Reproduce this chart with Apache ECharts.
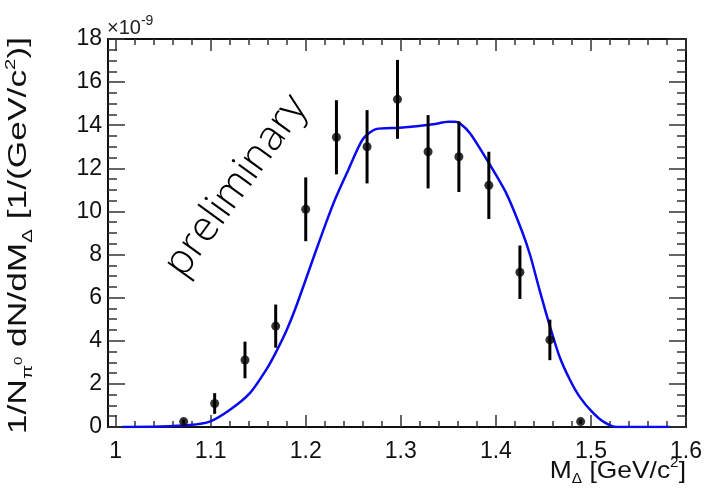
<!DOCTYPE html>
<html>
<head>
<meta charset="utf-8">
<script src="https://cdn.jsdelivr.net/npm/echarts@6/dist/echarts.min.js"></script>
<style>
  html, body { margin: 0; padding: 0; background: #fff; }
  #chart { width: 707px; height: 488px; }
</style>
</head>
<body>
<div id="chart"></div>
<script>
// Invariant-mass bin centres [GeV/c^2]
const massCenters = [1.0716, 1.1042, 1.1361, 1.1684, 1.2000, 1.2323, 1.2645,
                     1.2965, 1.3287, 1.3611, 1.3926, 1.4253, 1.4568, 1.4892];
// Normalised yield, in units of 1e-9 (GeV/c^2)^-1
const yieldValues = [0.25, 1.09, 3.11, 4.68, 10.10, 13.44, 13.00,
                     15.20, 12.77, 12.54, 11.21, 7.18, 4.04, 0.25];
// Statistical uncertainties, same units
const yieldErrors = [0.10, 0.48, 0.85, 1.00, 1.48, 1.72, 1.70,
                     1.83, 1.70, 1.64, 1.56, 1.24, 0.94, 0.10];
// Model curve
const fitMass = [1.007, 1.046, 1.078, 1.099, 1.120, 1.141, 1.159, 1.169, 1.180, 1.190,
                 1.211, 1.222, 1.232, 1.245, 1.260, 1.274, 1.299, 1.334, 1.350, 1.357,
                 1.362, 1.373, 1.394, 1.411, 1.427, 1.436, 1.446, 1.457, 1.467, 1.478,
                 1.488, 1.501, 1.513, 1.527, 1.583];
const fitValues = [0, 0.02, 0.09, 0.25, 0.79, 1.56, 2.70, 3.50, 4.50, 5.60,
                   8.21, 9.55, 10.68, 11.95, 13.35, 13.82, 13.88, 14.04, 14.16, 14.16,
                   14.09, 13.62, 12.15, 10.84, 9.14, 7.98, 6.35, 4.65, 3.26, 2.18,
                   1.41, 0.71, 0.25, 0, 0];
// Axis tick labels
const xTickLabels = [1.0, 1.1, 1.2, 1.3, 1.4, 1.5, 1.6];
const yTickLabels = [0, 2, 4, 6, 8, 10, 12, 14, 16, 18];

const X_MIN = 0.992, X_MAX = 1.6, Y_MIN = 0, Y_MAX = 18;

const xMinorTicks = [];
for (let i = 0; i <= 30; i++) xMinorTicks.push(+(1 + 0.02 * i).toFixed(2));
const yMinorTicks = [];
for (let i = 0; i <= 36; i++) yMinorTicks.push(+(0.5 * i).toFixed(1));

const FONT = '"Liberation Sans", Arial, Helvetica, sans-serif';
const FRAME = { color: '#111', width: 2 };
const TICK = { color: '#333', width: 1.5 };

function xAxisDef(position, ticks, len, withLabels, withLine) {
  return {
    type: 'value', position: position, min: X_MIN, max: X_MAX, offset: 0,
    axisLine: { show: withLine, onZero: false, lineStyle: FRAME },
    axisTick: { show: true, inside: true, length: len, customValues: ticks, lineStyle: TICK },
    axisLabel: withLabels ? {
      show: true, customValues: ticks, margin: 13, color: '#111',
      fontFamily: FONT, fontSize: 23,
      formatter: v => String(Math.round(v * 10) / 10)
    } : { show: false },
    splitLine: { show: false }
  };
}
function yAxisDef(position, ticks, len, withLabels, withLine) {
  return {
    type: 'value', position: position, min: Y_MIN, max: Y_MAX, offset: 0,
    axisLine: { show: withLine, onZero: false, lineStyle: FRAME },
    axisTick: { show: true, inside: true, length: len, customValues: ticks, lineStyle: TICK },
    axisLabel: withLabels ? {
      show: true, customValues: ticks, margin: 6, color: '#111',
      fontFamily: FONT, fontSize: 23, padding: [4, 0, 0, 0],
      formatter: v => String(Math.round(v))
    } : { show: false },
    splitLine: { show: false }
  };
}

const chart = echarts.init(document.getElementById('chart'), null, { renderer: 'canvas' });

chart.setOption({
  animation: false,
  backgroundColor: '#fff',
  grid: { left: 108, right: 21, top: 39, bottom: 61, containLabel: false },
  xAxis: [
    xAxisDef('bottom', xTickLabels, 12, true, true),
    xAxisDef('bottom', xMinorTicks, 6, false, false),
    xAxisDef('top', xTickLabels, 12, false, true),
    xAxisDef('top', xMinorTicks, 6, false, false)
  ],
  yAxis: [
    yAxisDef('left', yTickLabels, 17, true, true),
    yAxisDef('left', yMinorTicks, 9, false, false),
    yAxisDef('right', yTickLabels, 17, false, true),
    yAxisDef('right', yMinorTicks, 9, false, false)
  ],
  series: [
    {
      name: 'model', type: 'line', xAxisIndex: 0, yAxisIndex: 0,
      data: fitMass.map((m, i) => [m, fitValues[i]]),
      showSymbol: false, smooth: 0.25,
      lineStyle: { color: '#0a0aef', width: 2.5 },
      z: 2
    },
    {
      name: 'errors', type: 'custom', xAxisIndex: 0, yAxisIndex: 0,
      data: massCenters.map((m, i) => [m, yieldValues[i], yieldErrors[i]]),
      encode: { x: 0, y: 1 },
      renderItem: function (params, api) {
        const x = api.value(0), y = api.value(1), e = api.value(2);
        const hi = api.coord([x, y + e]);
        const lo = api.coord([x, Math.max(0, y - e)]);
        return {
          type: 'line',
          shape: { x1: hi[0], y1: hi[1], x2: lo[0], y2: lo[1] },
          style: { stroke: '#000', lineWidth: 3 }
        };
      },
      z: 3
    },
    {
      name: 'data', type: 'scatter', xAxisIndex: 0, yAxisIndex: 0,
      data: massCenters.map((m, i) => [m, yieldValues[i]]),
      symbol: 'circle', symbolSize: 9,
      itemStyle: { color: '#000' },
      z: 4
    }
  ],
  graphic: [
    {
      type: 'text', x: 107, y: 38,
      style: {
        text: '{a|\u00d710}{s|-9}',
        verticalAlign: 'bottom',
        rich: {
          a: { fontFamily: FONT, fontSize: 20, fill: '#222', verticalAlign: 'bottom', lineHeight: 24 },
          s: { fontFamily: FONT, fontSize: 14, fill: '#222', verticalAlign: 'top', lineHeight: 24 }
        }
      }
    },
    {
      type: 'text', x: 686, y: 486, scaleX: 1.1, originX: 0, originY: 0,
      style: {
        text: '{a|M}{s|\u0394}{a| [GeV/c}{p|2}{a|]}',
        align: 'right', verticalAlign: 'bottom',
        rich: {
          a: { fontFamily: FONT, fontSize: 24, fill: '#111', verticalAlign: 'middle', lineHeight: 30 },
          s: { fontFamily: FONT, fontSize: 14, fill: '#111', verticalAlign: 'bottom', lineHeight: 30 },
          p: { fontFamily: FONT, fontSize: 14, fill: '#111', verticalAlign: 'top', lineHeight: 30 }
        }
      }
    },
    {
      type: 'text', x: 19, y: 37, rotation: Math.PI / 2, scaleX: 1.36,
      style: {
        text: '{a|1/N}{s|\u03c0}{z|0}{a| dN/dM}{s|\u0394}{a| [1/(GeV/c}{p|2}{a|)]}',
        align: 'right', verticalAlign: 'middle',
        rich: {
          a: { fontFamily: FONT, fontSize: 26, fill: '#111', verticalAlign: 'middle', lineHeight: 32 },
          s: { fontFamily: FONT, fontSize: 15, fill: '#111', verticalAlign: 'bottom', lineHeight: 32 },
          z: { fontFamily: FONT, fontSize: 11, fill: '#111', verticalAlign: 'middle', lineHeight: 32 },
          p: { fontFamily: FONT, fontSize: 15, fill: '#111', verticalAlign: 'top', lineHeight: 32 }
        }
      }
    },
    {
      type: 'text', x: 236, y: 186, rotation: 54 * Math.PI / 180,
      style: {
        text: 'preliminary',
        align: 'center', verticalAlign: 'middle',
        fontFamily: '"Open Sans", Lato, ' + FONT, fontWeight: 300, fontSize: 42,
        fill: '#000'
      }
    }
  ]
});
</script>
</body>
</html>
